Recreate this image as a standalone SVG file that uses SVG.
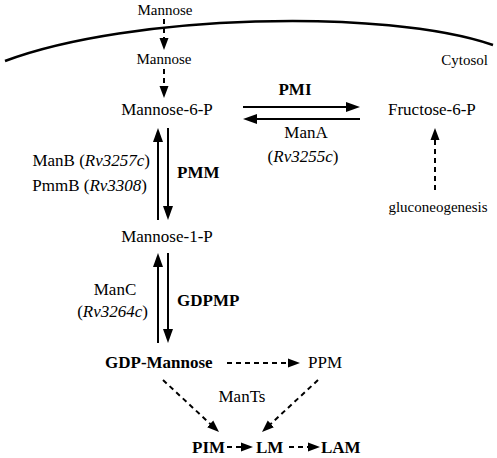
<svg xmlns="http://www.w3.org/2000/svg" width="497" height="458" viewBox="0 0 497 458">
<style>
text{font-family:"Liberation Serif","Times New Roman",serif;fill:#000}
.m{font-size:17px}
.s{font-size:15px}
.b{font-size:17px;font-weight:bold}
.c{text-anchor:middle}
.e{text-anchor:end}
.i{font-style:italic}
.sol{stroke:#000;stroke-width:2;fill:none;marker-end:url(#hs)}
.dsh{stroke:#000;stroke-width:2;fill:none;stroke-dasharray:5 4;marker-end:url(#hd)}
</style>
<defs>
<marker id="hs" markerUnits="userSpaceOnUse" markerWidth="14" markerHeight="10" refX="4" refY="5" orient="auto" viewBox="0 0 14 10"><path d="M0,0 L14,5 L0,10 z" fill="#000"/></marker>
<marker id="hd" markerUnits="userSpaceOnUse" markerWidth="12" markerHeight="10" refX="3" refY="5" orient="auto" viewBox="0 0 12 10"><path d="M0,0.5 L12,5 L0,9.5 z" fill="#000"/></marker>
</defs>
<path id="membrane" d="M5,61 C130,14 385,8 493,45" fill="none" stroke="#000" stroke-width="2.5"/>
<text class="s e" x="488" y="65">Cytosol</text>
<g id="connectors">
<line class="dsh" x1="164" y1="19" x2="164" y2="41"/>
<line class="dsh" x1="164" y1="69" x2="164" y2="89"/>
<line class="sol" x1="243" y1="107" x2="350" y2="107"/>
<line class="sol" x1="360" y1="119" x2="253" y2="119"/>
<line class="sol" x1="158" y1="220" x2="158" y2="138"/>
<line class="sol" x1="168" y1="128" x2="168" y2="210"/>
<line class="sol" x1="158" y1="343" x2="158" y2="263"/>
<line class="sol" x1="168" y1="253" x2="168" y2="333"/>
<line class="dsh" x1="435" y1="190" x2="435" y2="137"/>
<line class="dsh" x1="227" y1="363" x2="291" y2="363"/>
<line class="dsh" x1="163" y1="380" x2="212.4" y2="425.9"/>
<line class="dsh" x1="318" y1="380" x2="268.6" y2="425.9"/>
<line class="dsh" x1="227" y1="447" x2="244" y2="447"/>
<line class="dsh" x1="289" y1="447" x2="311" y2="447"/>
<text class="b c" x="295" y="95">PMI</text>
<text class="m c" x="306" y="138">ManA</text>
<text class="m c" x="303" y="162">(<tspan class="i">Rv3255c</tspan>)</text>
<text class="m e" x="150" y="166">ManB (<tspan class="i">Rv3257c</tspan>)</text>
<text class="m e" x="147" y="191">PmmB (<tspan class="i">Rv3308</tspan>)</text>
<text class="b" x="177" y="178">PMM</text>
<text class="m c" x="115" y="295">ManC</text>
<text class="m e" x="148" y="317">(<tspan class="i">Rv3264c</tspan>)</text>
<text class="b" x="177" y="306">GDPMP</text>
<text class="m c" x="242" y="402">ManTs</text>
</g>
<g id="mannose-out"><text class="s c" x="165" y="15">Mannose</text></g>
<g id="mannose-in"><text class="s c" x="164" y="64">Mannose</text></g>
<g id="man6p"><text class="m c" x="167" y="115">Mannose-6-P</text></g>
<g id="fru6p"><text class="m" x="388" y="115">Fructose-6-P</text></g>
<g id="gluconeogenesis"><text class="s c" x="438" y="212">gluconeogenesis</text></g>
<g id="man1p"><text class="m c" x="167" y="242">Mannose-1-P</text></g>
<g id="gdpman"><text class="b" x="105" y="368">GDP-Mannose</text></g>
<g id="ppm"><text class="m" x="308" y="368">PPM</text></g>
<g id="pim"><text class="b" x="192" y="453">PIM</text></g>
<g id="lm"><text class="b" x="256" y="453">LM</text></g>
<g id="lam"><text class="b" x="321" y="453">LAM</text></g>
</svg>
